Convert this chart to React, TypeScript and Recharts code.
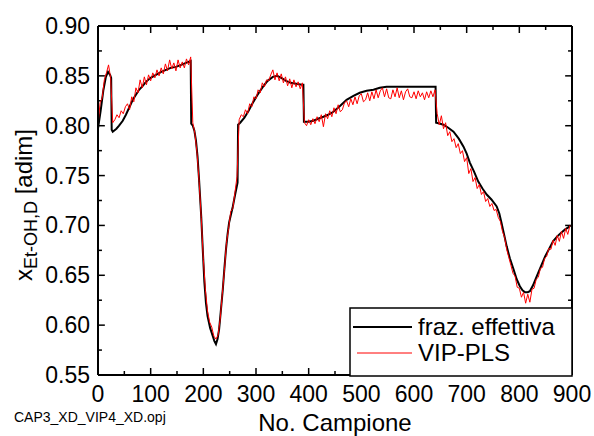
import React from "react";
import { LineChart, Line, XAxis, YAxis, ReferenceLine } from "recharts";

// fraz. effettiva (black, smooth) – sample number / value pairs
const blackSamples = [
  0, 5, 10, 15, 19, 23, 25, 26, 28, 35, 40, 47, 53, 60, 66, 72, 78, 85, 91, 100,
  110, 120, 129, 138, 148, 158, 167, 176, 177, 180, 183, 186, 189, 192, 196, 199, 202, 205, 208, 213,
  218, 221, 224, 227, 230, 233, 237, 240, 243, 246, 249, 252, 256, 260, 265, 266, 270, 278, 286, 294,
  303, 313, 322, 332, 340, 348, 357, 366, 376, 387, 390, 391, 400, 409, 418, 428, 437, 447, 460, 472,
  485, 497, 510, 523, 535, 548, 560, 573, 590, 610, 630, 641, 642, 650, 656, 665, 675, 685, 694, 700,
  706, 714, 722, 730, 738, 747, 757, 762, 766, 771, 776, 782, 789, 795, 801, 806, 811, 816, 820, 826,
  833, 841, 849, 857, 864, 872, 880, 887, 893, 897,
];
const blackValues = [
  0.797, 0.815, 0.835, 0.849, 0.854, 0.851, 0.848, 0.796, 0.794, 0.797, 0.8, 0.805, 0.811, 0.819, 0.826, 0.831, 0.836, 0.84, 0.844, 0.848,
  0.851, 0.854, 0.856, 0.858, 0.859, 0.861, 0.863, 0.865, 0.802, 0.8, 0.795, 0.785, 0.769, 0.745, 0.709, 0.675, 0.643, 0.622, 0.609, 0.597,
  0.589, 0.584, 0.581, 0.586, 0.596, 0.613, 0.636, 0.657, 0.676, 0.691, 0.703, 0.71, 0.719, 0.73, 0.743, 0.801, 0.803, 0.808, 0.815, 0.823,
  0.831, 0.839, 0.845, 0.849, 0.85, 0.848, 0.845, 0.843, 0.842, 0.841, 0.841, 0.804, 0.804, 0.805, 0.807, 0.809, 0.811, 0.814, 0.82, 0.826,
  0.83, 0.833, 0.835, 0.836, 0.838, 0.839, 0.839, 0.839, 0.839, 0.839, 0.839, 0.839, 0.803, 0.802, 0.801, 0.798, 0.794, 0.787, 0.779, 0.772,
  0.763, 0.754, 0.744, 0.737, 0.731, 0.726, 0.719, 0.712, 0.703, 0.691, 0.679, 0.667, 0.656, 0.646, 0.639, 0.635, 0.633, 0.633, 0.634, 0.64,
  0.649, 0.659, 0.669, 0.677, 0.684, 0.689, 0.693, 0.696, 0.698, 0.7,
];

// VIP-PLS (red, noisy) – one value every 4 samples, from sample 0
const redStep = 4;
const redValues = [
  0.801, 0.823, 0.828, 0.846, 0.853, 0.861, 0.848, 0.803, 0.806, 0.811,
  0.808, 0.815, 0.812, 0.819, 0.822, 0.816, 0.829, 0.824, 0.838, 0.833,
  0.846, 0.838, 0.849, 0.841, 0.851, 0.845, 0.853, 0.848, 0.856, 0.85,
  0.858, 0.852, 0.862, 0.855, 0.866, 0.857, 0.863, 0.855, 0.866, 0.858,
  0.864, 0.858, 0.867, 0.861, 0.869, 0.803, 0.792, 0.773, 0.744, 0.708,
  0.666, 0.635, 0.614, 0.603, 0.598, 0.589, 0.586, 0.59, 0.606, 0.631,
  0.655, 0.683, 0.697, 0.714, 0.717, 0.733, 0.749, 0.806, 0.811, 0.809,
  0.816, 0.812, 0.822, 0.819, 0.829, 0.827, 0.836, 0.833, 0.843, 0.839,
  0.846, 0.845, 0.851, 0.856, 0.846, 0.853, 0.845, 0.852, 0.843, 0.849,
  0.84, 0.847, 0.838, 0.846, 0.839, 0.844, 0.837, 0.843, 0.803, 0.8,
  0.806, 0.801, 0.807, 0.802, 0.809, 0.804, 0.811, 0.799, 0.812, 0.807,
  0.815, 0.809, 0.818, 0.812, 0.821, 0.814, 0.816, 0.823, 0.825, 0.819,
  0.827, 0.821, 0.829, 0.822, 0.83, 0.832, 0.824, 0.826, 0.833, 0.825,
  0.834, 0.827, 0.836, 0.828, 0.835, 0.838, 0.829, 0.837, 0.828, 0.827,
  0.836, 0.829, 0.838, 0.828, 0.835, 0.826, 0.834, 0.837, 0.829, 0.828,
  0.834, 0.827, 0.835, 0.829, 0.833, 0.826, 0.834, 0.828, 0.835, 0.829,
  0.836, 0.812, 0.801, 0.81, 0.797, 0.803, 0.79, 0.794, 0.784, 0.787,
  0.778, 0.782, 0.772, 0.775, 0.764, 0.768, 0.752, 0.757, 0.744, 0.748,
  0.737, 0.741, 0.731, 0.734, 0.724, 0.727, 0.719, 0.722, 0.715, 0.716,
  0.708, 0.704, 0.694, 0.688, 0.676, 0.668, 0.66, 0.652, 0.649, 0.638,
  0.637, 0.628, 0.633, 0.622, 0.631, 0.623, 0.636, 0.637, 0.646, 0.648,
  0.657, 0.658, 0.667, 0.669, 0.677, 0.676, 0.685, 0.68, 0.69, 0.684,
  0.694, 0.687, 0.697, 0.691, 0.7,
];

const xTicks = [0, 50, 100, 150, 200, 250, 300, 350, 400, 450, 500, 550, 600, 650, 700, 750, 800, 850, 900];
const yTicks = [0.55, 0.575, 0.6, 0.625, 0.65, 0.675, 0.7, 0.725, 0.75, 0.775, 0.8, 0.825, 0.85, 0.875, 0.9];

const blackData = blackSamples.map((x, i) => ({ x, y: blackValues[i] }));
const redData = redValues.map((y, i) => ({ x: i * redStep, y }));

const X_MIN = 0;
const X_MAX = 900;
const Y_MIN = 0.55;
const Y_MAX = 0.9;

const FONT = "Arial, 'Liberation Sans', sans-serif";
const isMajorX = (v: number) => v % 100 === 0;
const isMajorY = (v: number) => Math.round(v * 1000) % 50 === 0;

// tick lengths in data units (about 7px major / 4px minor)
const xTickLen = (v: number) => (isMajorY(v) ? 13 : 7.5);
const yTickLen = (v: number) => (isMajorX(v) ? 0.007 : 0.004);

const frame = { stroke: "#000", strokeWidth: 2 };
const tickStyle = { stroke: "#000", strokeWidth: 1.5 };

function BottomLabel(props: any) {
  const { x, y, payload } = props;
  if (!isMajorX(payload.value)) return <g />;
  return (
    <text x={x} y={y + 27} textAnchor="middle" fontSize={23} fontFamily={FONT} fill="#000">
      {payload.value}
    </text>
  );
}

function LeftLabel(props: any) {
  const { x, y, payload } = props;
  if (!isMajorY(payload.value)) return <g />;
  return (
    <text x={x - 8} y={y + 8} textAnchor="end" fontSize={23} fontFamily={FONT} fill="#000">
      {payload.value.toFixed(2)}
    </text>
  );
}

export default function App() {
  return (
    <div style={{ position: "fixed", left: 0, top: 0, width: 594, height: 436, background: "#fff" }}>
      <LineChart width={594} height={436} margin={{ top: 26, right: 22, bottom: 0, left: 0 }}>
        <XAxis
          dataKey="x"
          type="number"
          domain={[X_MIN, X_MAX]}
          ticks={xTicks}
          interval={0}
          height={61}
          tickSize={0}
          tickMargin={0}
          tickLine={false}
          tick={<BottomLabel />}
          axisLine={frame}
          allowDataOverflow
        />
        <YAxis
          type="number"
          domain={[Y_MIN, Y_MAX]}
          ticks={yTicks}
          interval={0}
          width={98}
          tickSize={0}
          tickMargin={0}
          tickLine={false}
          tick={<LeftLabel />}
          axisLine={frame}
          allowDataOverflow
        />

        {/* frame */}
        <ReferenceLine x={X_MIN} {...frame} />
        <ReferenceLine x={X_MAX} {...frame} />
        <ReferenceLine y={Y_MIN} {...frame} />
        <ReferenceLine y={Y_MAX} {...frame} />

        {/* inward ticks on the four sides */}
        {xTicks.map((v) => (
          <ReferenceLine
            key={`b${v}`}
            segment={[{ x: v, y: Y_MIN }, { x: v, y: Y_MIN + yTickLen(v) }]}
            {...tickStyle}
          />
        ))}
        {xTicks.map((v) => (
          <ReferenceLine
            key={`t${v}`}
            segment={[{ x: v, y: Y_MAX }, { x: v, y: Y_MAX - yTickLen(v) }]}
            {...tickStyle}
          />
        ))}
        {yTicks.map((v) => (
          <ReferenceLine
            key={`l${v}`}
            segment={[{ x: X_MIN, y: v }, { x: X_MIN + xTickLen(v), y: v }]}
            {...tickStyle}
          />
        ))}
        {yTicks.map((v) => (
          <ReferenceLine
            key={`r${v}`}
            segment={[{ x: X_MAX, y: v }, { x: X_MAX - xTickLen(v), y: v }]}
            {...tickStyle}
          />
        ))}

        <Line
          data={blackData}
          dataKey="y"
          type="linear"
          stroke="#000"
          strokeWidth={2}
          dot={false}
          isAnimationActive={false}
        />
        <Line
          data={redData}
          dataKey="y"
          type="linear"
          stroke="#ff0000"
          strokeWidth={1}
          dot={false}
          isAnimationActive={false}
        />
      </LineChart>
      <svg
        width={594}
        height={436}
        style={{ position: "absolute", left: 0, top: 0, pointerEvents: "none" }}
        fontFamily={FONT}
      >
        {/* y axis title */}
        <text transform="rotate(-90)" x={-205} y={32} textAnchor="middle" fontSize={24} fill="#000">
          x
          <tspan fontSize={18} dy={5}>Et-OH,D</tspan>
          <tspan dy={-5}> [adim]</tspan>
        </text>
        {/* x axis title */}
        <text x={335} y={431} textAnchor="middle" fontSize={24} fill="#000">
          No. Campione
        </text>
        <text x={14} y={422} fontSize={14} fill="#000">
          CAP3_XD_VIP4_XD.opj
        </text>
        {/* legend */}
        <rect x={350} y={308} width={222} height={68} fill="#fff" stroke="#000" strokeWidth={1.5} />
        <line x1={353} x2={412} y1={327} y2={327} stroke="#000" strokeWidth={2} />
        <text x={418} y={335} fontSize={24} fill="#000">fraz. effettiva</text>
        <line x1={357} x2={412} y1={353} y2={353} stroke="#ff0000" strokeWidth={1} />
        <text x={418} y={361} fontSize={24} fill="#000">VIP-PLS</text>
      </svg>
    </div>
  );
}
